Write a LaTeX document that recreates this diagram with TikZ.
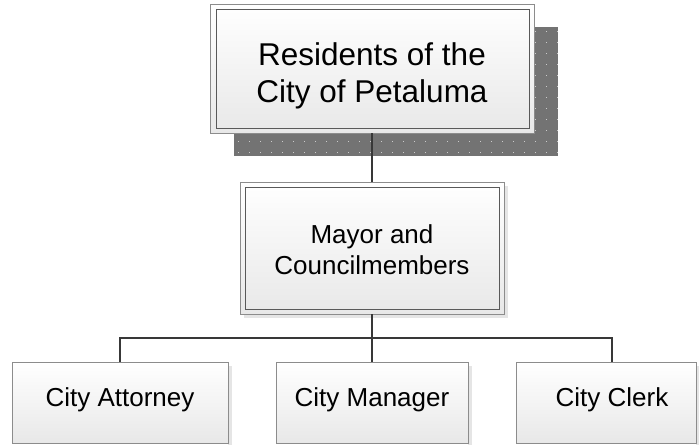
\documentclass[tikz,border=0pt]{standalone}
\usepackage{fontspec}
\setmainfont{Liberation Sans}
\begin{document}
\begin{tikzpicture}[x=1pt,y=-1pt]
\tikzset{
 frame/.style={draw=black!45, line width=0.9pt, top color=white, bottom color=black!9, inner sep=0pt, outer sep=0pt},
 innerframe/.style={draw=black!65, line width=0.9pt},
 softshadow/.style={fill=black!10},
 hardshadow/.style={fill=black!55},
 conn/.style={draw=black!78, line width=2.4pt, line join=miter},
 bigtext/.style={font=\fontsize{31.5}{37}\selectfont, align=center, inner sep=0pt},
 midtext/.style={font=\fontsize{26}{31}\selectfont, align=center, inner sep=0pt},
}
\useasboundingbox (0,0) rectangle (699,445);
\clip (0,0) rectangle (699,445);
\fill[white] (0,0) rectangle (699,445);

% top box shadow
\fill[hardshadow] (234,27) rectangle (558,156);
\foreach \i in {0,...,29}{
  \foreach \j in {0,...,11}{
    \fill[black!20] (238+\i*11,31+\j*11) rectangle ++(1.3,1.3);
  }
}

% top box
\node[frame, minimum width=324pt, minimum height=129pt] (res) at (372,68.5) {};
\draw[innerframe] ([xshift=6pt,yshift=-5pt]res.north west) rectangle ([xshift=-5pt,yshift=5pt]res.south east);
\node[bigtext] (restext) at (372,76) {Residents of the\\City of Petaluma};

% mayor box
\fill[softshadow] (244,186) rectangle (508,318);
\node[frame, minimum width=264pt, minimum height=132pt] (mayor) at (372,248) {};
\draw[innerframe] ([xshift=5pt,yshift=-5pt]mayor.north west) rectangle ([xshift=-5pt,yshift=5pt]mayor.south east);
\node[midtext] (mayortext) at (372,250) {Mayor and\\Councilmembers};

% bottom boxes
\fill[softshadow] (228,366) rectangle (232,445);
\fill[softshadow] (468,366) rectangle (472,445);
\fill[softshadow] (696,366) rectangle (699,445);
\node[frame, minimum width=216pt, minimum height=81pt] (att) at (120,402.5) {};
\node[frame, minimum width=192pt, minimum height=81pt] (mgr) at (372,402.5) {};
\node[frame, minimum width=180pt, minimum height=81pt] (clerk) at (606,402.5) {};
\node[midtext] (atttext) at (120,400) {City Attorney};
\node[midtext] (mgrtext) at (372,400) {City Manager};
\node[midtext] (clerktext) at (612,400) {City Clerk};

% connectors
\coordinate (bus) at (372,338);
\coordinate (clerktop) at (612,362);
\draw[conn] (res.south) -- (mayor.north);
\draw[conn] (mayor.south) -- (bus);
\draw[conn] (att.north) |- (bus) -| (clerktop);
\draw[conn] (bus) -- (mgr.north);
\end{tikzpicture}
\end{document}
